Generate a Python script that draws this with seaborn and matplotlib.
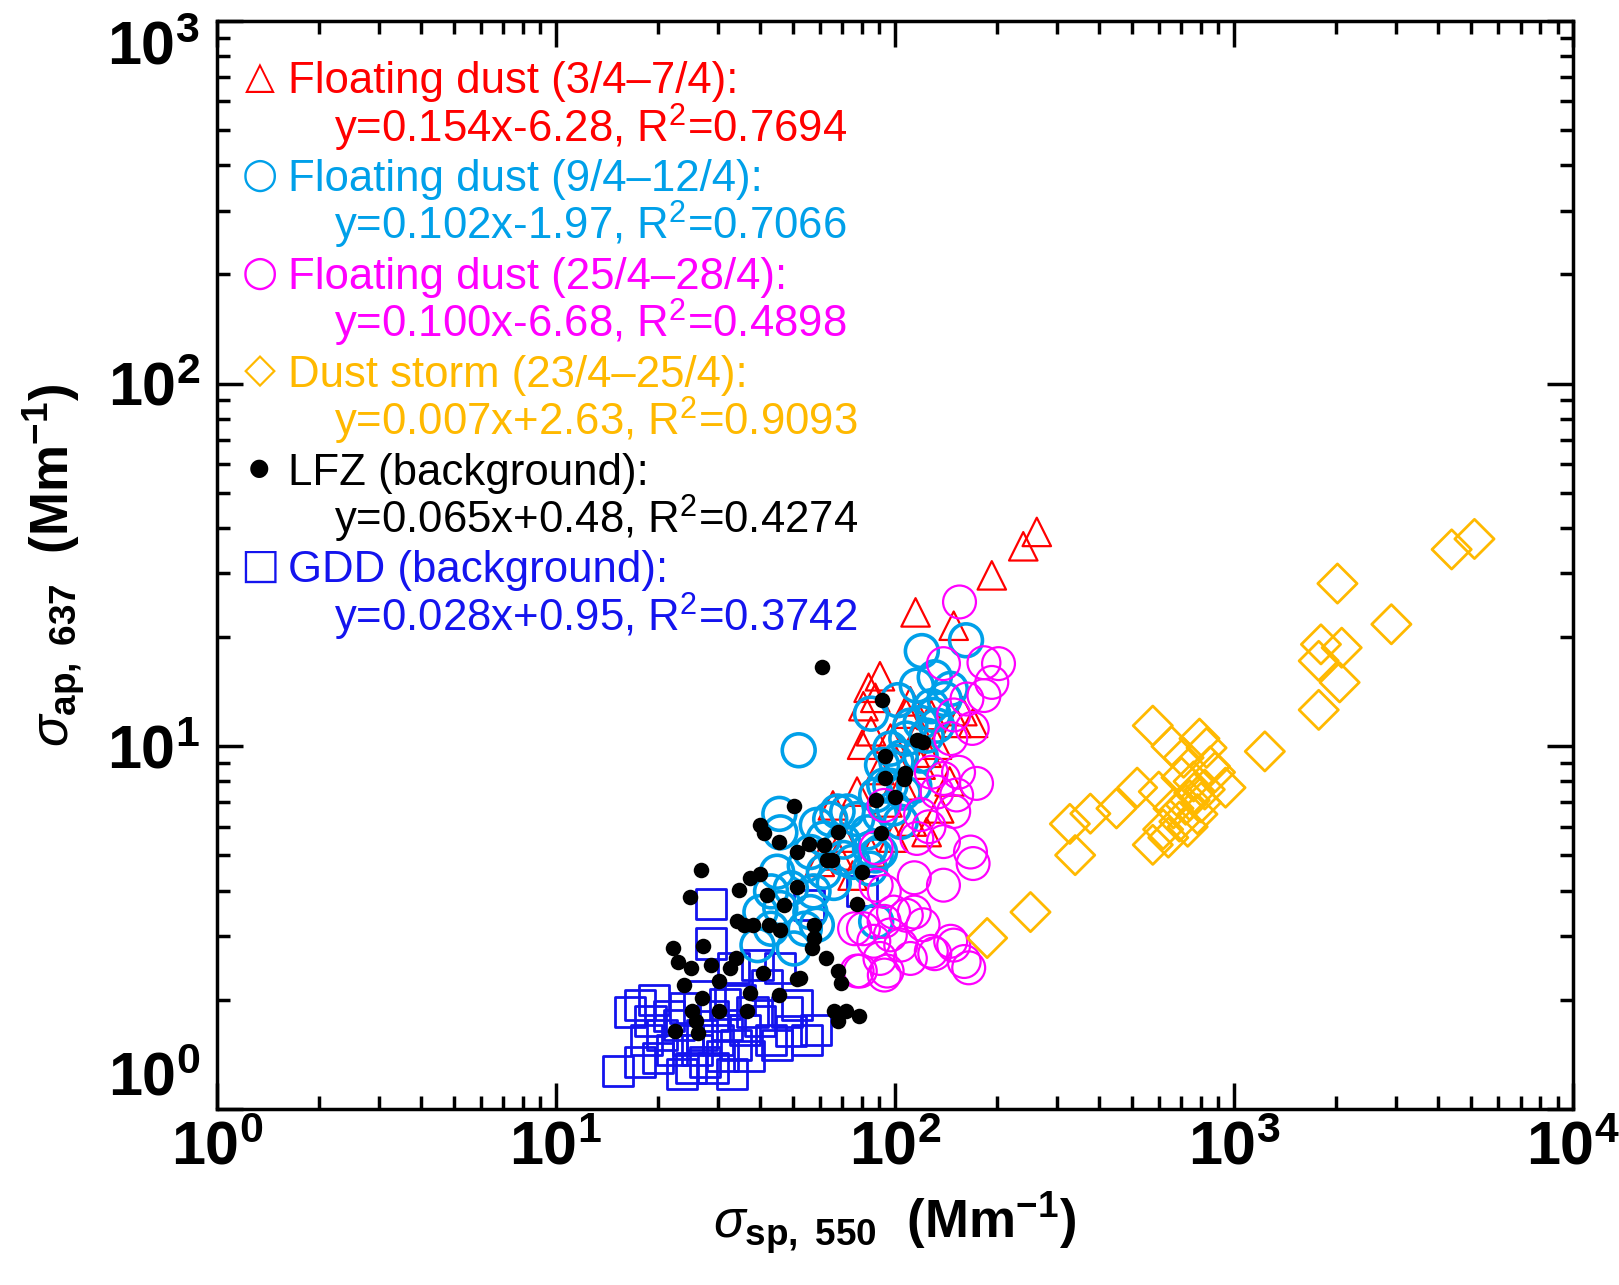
import numpy as np
import pandas as pd
import matplotlib
matplotlib.use('Agg')
import matplotlib.pyplot as plt
import seaborn as sns
from matplotlib.ticker import FuncFormatter, NullFormatter

# %% data (sigma_sp, sigma_ap) in Mm-1

# Floating dust 3/4-7/4 (triangles)
fd1_x = [262, 239, 193, 115, 149, 90.3, 83.6, 87.5, 80.7, 85, 80, 111, 108, 118, 124,
         133, 152, 170, 158, 65.6, 77.3, 90, 101, 119, 135, 124, 99, 70.4, 60, 68, 75,
         85, 95, 105, 112, 145, 128, 97]
fd1_y = [39.0, 35.6, 29.6, 23.4, 21.5, 15.6, 14.5, 13.6, 12.9, 11.0, 10.1, 13.3, 12.3,
         11.0, 9.6, 10.1, 11.6, 11.6, 12.5, 6.87, 7.5, 8.6, 9.06, 8.9, 6.74, 5.8, 5.6,
         5.6, 4.8, 5.0, 4.4, 5.1, 7.0, 7.8, 6.2, 8.0, 12.2, 10.5]

# Floating dust 9/4-12/4 (cyan circles)
fd2_x = [52, 162, 120, 85, 102, 131, 140, 146, 116, 128, 119, 133, 111, 130, 96.9, 108,
         124, 91.6, 104, 119, 101, 96.9, 114, 88, 106, 93, 72.3, 64.4, 58.8, 77.3, 83,
         90.3, 99, 84.4, 70.4, 61.7, 90.3, 45.6, 45.9, 67.7, 56.3, 70.4, 87.7, 44.9,
         54.2, 61.7, 84.4, 43.1, 49.3, 57.5, 45.9, 40.1, 56.3, 58.8, 43.1, 39.3, 50.3,
         54.2, 88, 104, 75, 66]
fd2_y = [9.75, 19.6, 18.3, 12.3, 13.4, 15.5, 13.5, 14.4, 14.7, 12.9, 11.6, 11.4, 11.4,
         12.2, 9.85, 10.5, 10.7, 8.88, 9.3, 9.43, 9.06, 7.78, 7.78, 7.34, 7.45, 7.8,
         6.61, 6.3, 6.07, 6.3, 5.79, 6.48, 6.74, 5.22, 5.46, 5.57, 5.11, 6.51, 5.79,
         6.61, 5.11, 4.92, 5.0, 4.51, 4.69, 4.51, 4.6, 3.98, 4.06, 3.98, 3.58, 3.49,
         3.49, 3.22, 3.14, 2.83, 2.77, 3.14, 3.29, 6.19, 4.8, 4.2]

# Floating dust 25/4-28/4 (magenta circles)
fd3_x = [155, 139, 183, 202, 193, 163, 149, 169, 146, 154, 139, 152, 133, 149, 119, 116,
         139, 167, 88, 170, 139, 114, 88, 80.7, 92.9, 108, 121, 149, 128, 104, 90.3,
         77.3, 94.8, 111, 96.9, 86.6, 99, 174, 92.9, 183, 128, 126, 93, 76, 114, 146,
         79, 93, 131, 160, 165]
fd3_y = [25.0, 16.9, 17.0, 16.9, 15.0, 13.5, 12.2, 11.2, 10.5, 8.48, 8.15, 7.34, 7.48,
         6.61, 6.48, 5.57, 5.46, 5.11, 5.25, 4.75, 4.14, 4.34, 4.14, 3.14, 3.29, 3.42,
         3.22, 2.83, 2.72, 2.83, 2.6, 2.40, 2.40, 2.6, 3.02, 2.90, 3.49, 7.9, 6.87,
         13.8, 8.48, 6.0, 3.98, 3.14, 3.49, 2.9, 2.4, 2.34, 2.68, 2.55, 2.45]

# Dust storm 23/4-25/4 (diamonds)
ds_x = [5120, 4385, 2019, 2912, 1805, 2078, 1778, 2049, 1778, 1233, 576, 654, 791, 763,
        518, 450, 377, 328, 340, 576, 618, 663, 251, 187, 944, 879, 850, 700, 720, 740,
        800, 820, 780, 690, 760, 600, 710, 830, 640, 730]
ds_y = [37.3, 34.9, 28.1, 21.7, 19.1, 18.7, 17.2, 15.0, 12.6, 9.68, 11.4, 10.0, 10.5,
        7.44, 7.69, 6.74, 6.52, 6.11, 5.01, 5.35, 5.90, 6.74, 3.49, 2.96, 7.69, 8.48,
        8.8, 8.2, 6.9, 7.1, 7.0, 7.6, 6.5, 6.2, 8.0, 7.5, 9.3, 9.9, 5.6, 6.0]

# LFZ background (black dots)
lfz_x = [22.5, 26.3, 25.2, 30.3, 36.6, 27.0, 37.4, 45.6, 51.4, 40.7, 30.3, 23.8, 22.2,
         27.2, 33.9, 35.8, 42.5, 45.9, 41.9, 51.4, 46.9, 57.5, 57.5, 57.1, 62.6, 67.7,
         69.1, 66.2, 68.1, 78.4, 71.6, 26.7, 24.9, 34.7, 37.4, 40.1, 45.6, 50.3, 40.1,
         41.0, 51.4, 55.6, 61.7, 63.1, 65.3, 68.1, 80.1, 77.3, 91.0, 100, 106, 93.5,
         93.5, 116, 121, 91.6, 60.9, 87.7, 107, 38.0, 34.1, 22.9, 25.0, 28.6, 32.7,
         52.5, 25.8]
lfz_y = [1.64, 1.62, 1.86, 1.86, 1.86, 2.02, 2.09, 2.06, 2.28, 2.37, 2.25, 2.2, 2.77,
         2.81, 2.6, 3.22, 3.22, 3.12, 3.88, 4.09, 3.66, 3.22, 2.96, 2.77, 2.6, 2.40,
         2.22, 1.86, 1.75, 1.80, 1.86, 4.57, 3.85, 4.01, 4.34, 4.45, 5.46, 6.83, 6.07,
         5.75, 5.11, 5.39, 5.35, 4.85, 4.85, 5.79, 4.51, 3.68, 5.75, 7.24, 8.15, 8.2,
         9.43, 10.4, 10.3, 13.4, 16.5, 7.1, 8.43, 3.22, 3.29, 2.55, 2.45, 2.49, 2.45,
         2.29, 1.75]

# GDD background (squares)
gdd_x = [28.6, 28.6, 15.2, 17.7, 16.5, 17.7, 19.0, 20.5, 18.5, 21.5, 23.0, 24.5, 26.0,
         27.5, 29.0, 31.0, 30.0, 32.0, 34.0, 36.0, 38.0, 35.0, 33.4, 39.3, 45.9, 42.0,
         44.9, 49.3, 51.4, 55.0, 58.5, 20.0, 22.0, 25.0, 27.0, 29.0, 31.5, 24.0, 19.5,
         26.5, 37.0, 40.0, 48.0, 80, 55.6, 43, 33, 23.5]
gdd_y = [3.68, 2.86, 1.27, 1.35, 1.85, 1.93, 1.75, 1.60, 1.55, 1.80, 1.70, 1.55, 1.45,
         1.35, 1.30, 1.40, 1.55, 1.70, 1.50, 1.65, 1.85, 2.0, 2.45, 2.49, 2.45, 2.2,
         1.5, 1.64, 1.94, 1.55, 1.65, 1.38, 1.45, 1.30, 1.60, 1.80, 1.95, 1.90, 2.0,
         2.05, 1.40, 1.75, 1.85, 4.0, 3.66, 1.55, 1.25, 1.25]

legend_labels = ['Floating dust (3/4\u20137/4):', 'Floating dust (9/4\u201312/4):',
                 'Floating dust (25/4\u201328/4):', 'Dust storm (23/4\u201325/4):',
                 'LFZ (background):', 'GDD (background):']
fit_labels = ['y=0.154x-6.28, R$^2$=0.7694', 'y=0.102x-1.97, R$^2$=0.7066',
              'y=0.100x-6.68, R$^2$=0.4898', 'y=0.007x+2.63, R$^2$=0.9093',
              'y=0.065x+0.48, R$^2$=0.4274', 'y=0.028x+0.95, R$^2$=0.3742']
legend_symbols = ['\u25B3', '\u25CB', '\u25CB', '\u25C7', '\u25CF', '\u25A1']

# %% styling

sns.set_style('ticks')
plt.rcParams['font.family'] = ['Liberation Sans', 'DejaVu Sans']
plt.rcParams['mathtext.fontset'] = 'custom'
plt.rcParams['mathtext.rm'] = 'Liberation Sans'
plt.rcParams['mathtext.it'] = 'Liberation Sans:italic'
plt.rcParams['mathtext.bf'] = 'Liberation Sans:bold'
plt.rcParams['axes.labelcolor'] = 'black'

red = '#FF0000'
cyan = '#00A0E9'
magenta = '#FF00FF'
orange = '#FFB900'
blue = '#1414EE'

# name, x, y, marker, size, filled, colour, linewidth, zorder
groups = [
    ('GDD', gdd_x, gdd_y, 's', 470, False, blue, 2.0, 2),
    ('FD1', fd1_x, fd1_y, '^', 420, False, red, 1.6, 3),
    ('FD2', fd2_x, fd2_y, 'o', 560, False, cyan, 2.6, 4),
    ('FD3', fd3_x, fd3_y, 'o', 560, False, magenta, 1.6, 5),
    ('DS', ds_x, ds_y, 'D', 400, False, orange, 2.0, 6),
    ('LFZ', lfz_x, lfz_y, 'o', 125, True, 'black', 0.0, 7),
]

fig = plt.figure(figsize=(16.19, 12.85), dpi=100)
ax = fig.add_axes([0.134, 0.137, 0.8376, 0.8467])

for name, xs, ys, mk, size, filled, col, lw, z in groups:
    df = pd.DataFrame({'sp': xs, 'ap': ys})
    if filled:
        sns.scatterplot(data=df, x='sp', y='ap', marker=mk, s=size, color=col,
                        edgecolor=col, linewidth=lw, ax=ax, legend=False, zorder=z)
    else:
        sns.scatterplot(data=df, x='sp', y='ap', marker=mk, s=size, color=col,
                        facecolor='none', edgecolor=col, linewidth=lw, ax=ax,
                        legend=False, zorder=z)

ax.set_xscale('log')
ax.set_yscale('log')
ax.set_xlim(1, 1e4)
ax.set_ylim(1, 1e3)

fmt = FuncFormatter(lambda v, p: r'$\mathbf{10^{%d}}$' % round(np.log10(v)))
ax.xaxis.set_major_formatter(fmt)
ax.yaxis.set_major_formatter(fmt)
ax.xaxis.set_minor_formatter(NullFormatter())
ax.yaxis.set_minor_formatter(NullFormatter())

ax.tick_params(which='both', direction='in', top=True, right=True, width=2.5,
               colors='black')
ax.tick_params(which='major', length=19, labelsize=44)
ax.tick_params(which='minor', length=9.5)
ax.tick_params(axis='x', which='major', pad=8)
ax.tick_params(axis='y', which='major', pad=12)
for sp in ax.spines.values():
    sp.set_linewidth(2.5)
    sp.set_color('black')

# first and last y labels kept inside the axis range
ylabels = ax.get_yticklabels()
yticks = ax.get_yticks()
for lab, t in zip(ylabels, yticks):
    if np.isclose(t, 1e3):
        lab.set_va('top')
    elif np.isclose(t, 1):
        lab.set_va('bottom')

ax.set_xlabel(r'$\mathit{\sigma}_{\mathbf{sp,\ 550}}$  $\mathbf{(Mm^{-1})}$',
              fontsize=38, labelpad=10, color='black')
ax.set_ylabel(r'$\mathit{\sigma}_{\mathbf{ap,\ 637}}$  $\mathbf{(Mm^{-1})}$',
              fontsize=38, labelpad=14, color='black')

# legend written as coloured text lines
colours = [red, cyan, magenta, orange, 'black', blue]
sym_sizes = [28, 30, 30, 30, 17, 30]
base0 = 0.9334
step = 0.04494
for i in range(6):
    b1 = base0 - (2 * i) * step
    b2 = base0 - (2 * i + 1) * step
    ax.text(0.0314, b1 + 0.0150, legend_symbols[i], transform=ax.transAxes,
            color=colours[i], fontsize=sym_sizes[i], family='DejaVu Sans',
            ha='center', va='center')
    ax.text(0.0524, b1, legend_labels[i], transform=ax.transAxes,
            color=colours[i], fontsize=31.5, va='baseline', ha='left')
    ax.text(0.0866, b2, fit_labels[i], transform=ax.transAxes,
            color=colours[i], fontsize=31.5, va='baseline', ha='left')

fig.savefig('out.png', dpi=100)
